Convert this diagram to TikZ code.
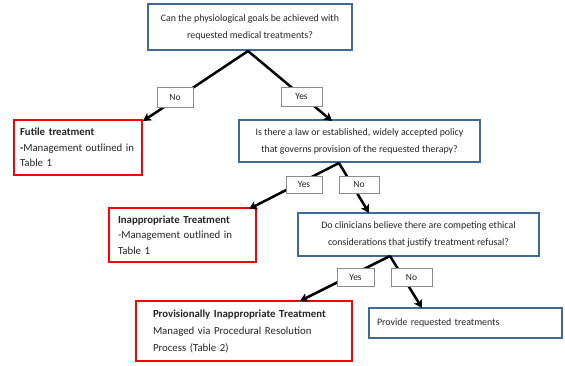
\documentclass[tikz,border=0pt]{standalone}
\usepackage{fontspec}
\setmainfont{Carlito}
\usetikzlibrary{arrows.meta}
\definecolor{qblue}{HTML}{41689A}
\definecolor{txt}{HTML}{262626}
\begin{document}
\begin{tikzpicture}[x=1pt,y=-1pt,
  qbox/.style={draw=qblue,line width=1.6pt,fill=white,align=center,text=txt,
    font=\fontsize{9.9}{17}\selectfont,inner sep=0pt},
  rbox/.style={draw=red,line width=1.8pt,fill=white,align=left,text=txt,
    font=\fontsize{10.8}{15.5}\selectfont,inner ysep=0pt},
  lbl/.style={draw=black!45,line width=0.6pt,fill=white,text=txt,
    font=\fontsize{9.5}{10}\selectfont,inner sep=0pt},
  arr/.style={line width=2.5pt,-{Stealth[length=8pt,width=9pt,inset=2pt]}}]
\useasboundingbox (0,0) rectangle (565,365);
\fill[white] (0,0) rectangle (565,365);

% question boxes
\node[qbox,minimum width=204pt,minimum height=46pt] (q1) at (250,27)
  {Can the physiological goals be achieved with\\requested medical treatments?};
\node[qbox,minimum width=241pt,minimum height=42pt] (q2) at (359.5,141)
  {Is there a law or established, widely accepted policy\\that governs provision of the requested therapy?};
\node[qbox,minimum width=241pt,minimum height=43pt] (q3) at (418.5,234.5)
  {Do clinicians believe there are competing ethical\\considerations that justify treatment refusal?};

% outcome boxes
\node[rbox,text width=116pt,inner xsep=6pt,minimum height=55pt] (fut) at (78,147.5)
  {\textbf{Futile treatment}\\\textbf{-}Management outlined in\\Table 1};
\node[rbox,text width=129pt,inner xsep=9pt,minimum height=54pt] (inap) at (182.5,235)
  {\textbf{Inappropriate Treatment}\\-Management outlined in\\Table 1};
\node[rbox,text width=182pt,inner xsep=17pt,minimum height=60pt,
  font=\fontsize{10.8}{17}\selectfont] (prov) at (244,331)
  {\textbf{Provisionally Inappropriate Treatment}\\Managed via Procedural Resolution\\Process (Table 2)};
\node[qbox,align=left,text width=177pt,inner xsep=8pt,minimum height=30pt,
  font=\fontsize{9.9}{11}\selectfont] (give) at (465.5,323)
  {Provide requested treatments};

% junction and arrow end points
\coordinate (j1) at (248,51);
\coordinate (e1a) at (143,121);
\coordinate (e1b) at (332,121);
\coordinate (j2) at (339,163);
\coordinate (e2a) at (249,209);
\coordinate (e2b) at (369,213);
\coordinate (j3) at (390,256);
\coordinate (e3a) at (300,301);
\coordinate (e3b) at (422,308);

\draw[arr] (j1) -- (e1a);
\draw[arr] (j1) -- (e1b);
\draw[arr] (j2) -- (e2a);
\draw[arr] (j2) -- (e2b);
\draw[arr] (j3) -- (e3a);
\draw[arr] (j3) -- (e3b);

% labels
\node[lbl,minimum width=36pt,minimum height=20pt] (n1) at (175,97) {No};
\node[lbl,minimum width=41pt,minimum height=19pt] (y1) at (301.5,96.5) {Yes};
\node[lbl,minimum width=36pt,minimum height=17pt] (y2) at (304,184.5) {Yes};
\node[lbl,minimum width=40pt,minimum height=17pt] (n2) at (359,184.5) {No};
\node[lbl,minimum width=37pt,minimum height=18pt] (y3) at (355.5,277) {Yes};
\node[lbl,minimum width=41pt,minimum height=18pt] (n3) at (411.5,277) {No};
\end{tikzpicture}
\end{document}
